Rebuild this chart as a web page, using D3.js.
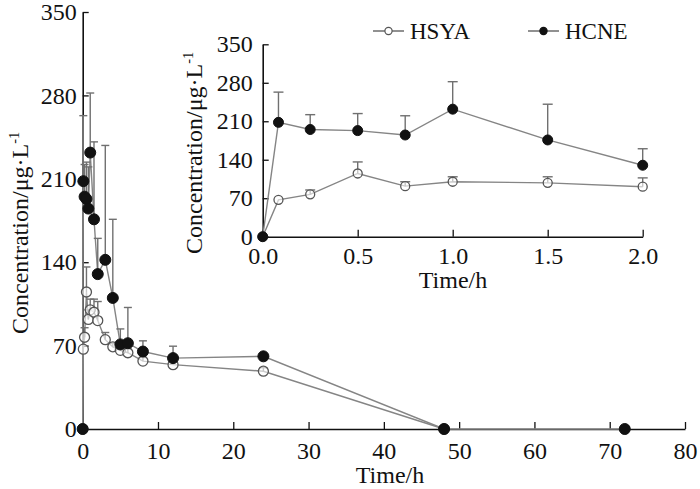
<!DOCTYPE html>
<html>
<head>
<meta charset="utf-8">
<script src="https://cdn.jsdelivr.net/npm/d3@7"></script>
<style>
  html, body { margin: 0; padding: 0; background: #fff; }
  svg { display: block; }
  text { font-family: "Liberation Serif", "Times New Roman", serif; fill: #111; }
</style>
</head>
<body>
<svg id="chart" width="700" height="489"></svg>
<script>
// ---- data ----
const seriesNames = ["HSYA", "HCNE"];
const timesHSYA = [0, 0.083, 0.25, 0.5, 0.75, 1, 1.5, 2, 3, 4, 5, 6, 8, 12, 24, 48];
const meanHSYA  = [0, 67, 77, 115, 92, 100, 98, 91, 75, 69, 66, 64, 57, 54, 48.5, 0];
const sdHSYA    = [0, 0, 8, 21, 8, 9, 11, 16, 6, 3, 3, 3, 3, 3, 3, 0];
const timesHCNE = [0, 0.083, 0.25, 0.5, 0.75, 1, 1.5, 2, 3, 4, 5, 6, 8, 12, 24, 48, 72];
const meanHCNE  = [0, 208, 195, 193, 185, 232, 176, 130, 142, 110, 71, 72, 65, 59.5, 61, 0, 0];
const sdHCNE    = [0, 55, 27, 31, 35, 50, 65, 30, 96, 66, 13, 30, 9, 10, 0, 0, 0];
const yTicks = [0, 70, 140, 210, 280, 350];
const mainXTicks = [0, 10, 20, 30, 40, 50, 60, 70, 80];
const insetXTicks = [0, 0.5, 1.0, 1.5, 2.0];

const svg = d3.select("#chart");
const lineColor = "#858585";
const barColor = "#707070";

function makeSeries(t, m, s) { return t.map((d, i) => ({ t: d, v: m[i], sd: s[i] })); }
const hsya = makeSeries(timesHSYA, meanHSYA, sdHSYA);
const hcne = makeSeries(timesHCNE, meanHCNE, sdHCNE);

function drawPanel(g, x, y, o) {
  const yAxis = d3.axisLeft(y).tickValues(yTicks).tickSizeInner(-6).tickSizeOuter(0).tickPadding(o.yPad);
  const xAxis = d3.axisBottom(x).tickValues(o.xTicks).tickSizeInner(-7).tickSizeOuter(0).tickPadding(o.xPad)
    .tickFormat(o.xFmt);
  const ya = g.append("g").attr("transform", `translate(${x.range()[0]},0)`).call(yAxis);
  const xa = g.append("g").attr("transform", `translate(0,${y.range()[0]})`).call(xAxis);
  [ya, xa].forEach(a => {
    a.selectAll("path").attr("stroke", "#111").attr("stroke-width", 1.6);
    a.selectAll("line").attr("stroke", "#111").attr("stroke-width", 1.3);
    a.selectAll("text").attr("font-size", o.tickFont).attr("fill", "#111")
      .style("font-family", '"Liberation Serif", "Times New Roman", serif');
  });

  const dHSYA = hsya.filter(d => d.t <= o.maxT);
  const dHCNE = hcne.filter(d => d.t <= o.maxT);
  const line = d3.line().x(d => x(d.t)).y(d => y(d.v));

  [dHSYA, dHCNE].forEach(data => {
    g.append("path").datum(data).attr("d", line)
      .attr("fill", "none").attr("stroke", lineColor).attr("stroke-width", 1.4);
  });

  // error bars (upper only)
  [dHSYA, dHCNE].forEach(data => {
    const eb = g.append("g").attr("stroke", barColor).attr("stroke-width", 1.4);
    data.filter(d => d.sd > 0).forEach(d => {
      const cx = x(d.t);
      eb.append("line").attr("x1", cx).attr("x2", cx).attr("y1", y(d.v)).attr("y2", y(d.v + d.sd));
      eb.append("line").attr("x1", cx - o.cap).attr("x2", cx + o.cap)
        .attr("y1", y(d.v + d.sd)).attr("y2", y(d.v + d.sd));
    });
  });

  g.append("g").selectAll("circle").data(dHSYA).join("circle")
    .attr("cx", d => x(d.t)).attr("cy", d => y(d.v)).attr("r", o.rO)
    .attr("fill", "#fff").attr("fill-opacity", 0.6).attr("stroke", "#555").attr("stroke-width", 1.3);
  g.append("g").selectAll("circle").data(dHCNE).join("circle")
    .attr("cx", d => x(d.t)).attr("cy", d => y(d.v)).attr("r", o.rF)
    .attr("fill", "#111").attr("stroke", "#111");

  g.append("text").attr("x", o.xTitleX).attr("y", o.xTitleY).attr("text-anchor", "middle")
    .attr("font-size", o.titleFont).text("Time/h");
  const yt = g.append("text")
    .attr("transform", `translate(${o.yTitleX},${o.yTitleY}) rotate(-90)`)
    .attr("text-anchor", "start").attr("font-size", o.titleFont);
  yt.append("tspan").text("Concentration/μg·L");
  yt.append("tspan").attr("dy", "-0.6em").attr("font-size", o.titleFont * 0.6).text("-1");
}

// main panel
const xMain = d3.scaleLinear().domain([0, 80]).range([82.7, 685]);
const yMain = d3.scaleLinear().domain([0, 350]).range([429, 12]);
drawPanel(svg.append("g"), xMain, yMain, {
  xTicks: mainXTicks, xFmt: d3.format("d"), yPad: 6, xPad: 13, tickFont: 24, titleFont: 24,
  maxT: 80, rO: 5, rF: 5.5, cap: 4,
  xTitleX: 390, xTitleY: 483, yTitleX: 28, yTitleY: 334
});

// inset panel
const xIn = d3.scaleLinear().domain([0, 2]).range([262.7, 642.7]);
const yIn = d3.scaleLinear().domain([0, 350]).range([236.7, 44.3]);
drawPanel(svg.append("g"), xIn, yIn, {
  xTicks: insetXTicks, xFmt: d3.format(".1f"), yPad: 10, xPad: 10, tickFont: 24, titleFont: 24,
  maxT: 2, rO: 4.5, rF: 5, cap: 5,
  xTitleX: 453, xTitleY: 288, yTitleX: 202, yTitleY: 254
});

// legend
const legend = svg.append("g");
const legItems = [
  { name: seriesNames[0], x0: 373, filled: false },
  { name: seriesNames[1], x0: 528, filled: true }
];
legItems.forEach(it => {
  const ly = 31;
  legend.append("line").attr("x1", it.x0).attr("x2", it.x0 + 31).attr("y1", ly).attr("y2", ly)
    .attr("stroke", "#555").attr("stroke-width", 1.3);
  legend.append("circle").attr("cx", it.x0 + 15.5).attr("cy", ly).attr("r", 3.6)
    .attr("fill", it.filled ? "#111" : "#fff").attr("stroke", it.filled ? "#111" : "#555").attr("stroke-width", 1.2);
  legend.append("text").attr("x", it.x0 + 37).attr("y", ly + 7.5).attr("font-size", 23).text(it.name);
});
</script>
</body>
</html>
